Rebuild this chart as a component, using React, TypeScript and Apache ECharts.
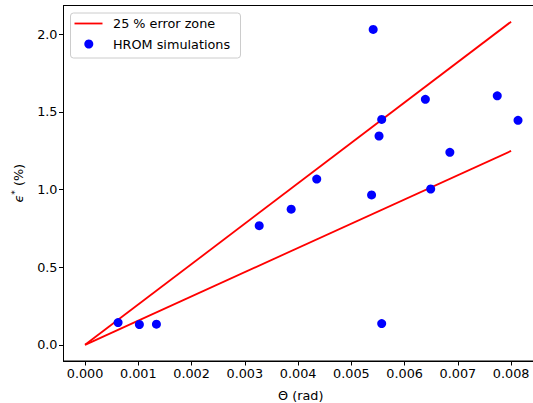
import React, { useEffect, useRef } from "react";
import * as echarts from "echarts";

// HROM simulation points: Θ (rad) and ε* (%)
const thetaValues = [0.00062, 0.00102, 0.00134, 0.00327, 0.00387, 0.00435, 0.00541, 0.00538, 0.00557, 0.00552, 0.00557, 0.00639, 0.00649, 0.00685, 0.00774, 0.00813];
const epsValues = [0.143, 0.131, 0.133, 0.767, 0.873, 1.067, 2.030, 0.965, 1.451, 1.344, 0.137, 1.580, 1.003, 1.239, 1.603, 1.445];

// 25 % error zone lines (endpoints)
const upperZoneX = [0, 0.008];
const upperZoneY = [0, 2.08];
const lowerZoneX = [0, 0.008];
const lowerZoneY = [0, 1.248];

const xTicks = [0, 0.001, 0.002, 0.003, 0.004, 0.005, 0.006, 0.007, 0.008];
const yTicks = [0, 0.5, 1.0, 1.5, 2.0];

const legendNames = ["25 % error zone", "HROM simulations"];

const FONT = "DejaVu Sans";
const FS = 12.8;

export default function App() {
  const ref = useRef<HTMLDivElement>(null);
  useEffect(() => {
    if (!ref.current) return;
    const chart = echarts.init(ref.current, undefined, { renderer: "svg" });
    const scatterData = thetaValues.map((x, i) => [x, epsValues[i]]);
    const upper = upperZoneX.map((x, i) => [x, upperZoneY[i]]);
    const lower = lowerZoneX.map((x, i) => [x, lowerZoneY[i]]);
    chart.setOption({
      animation: false,
      backgroundColor: "#ffffff",
      grid: {
        left: 63.5,
        top: 5.5,
        bottom: 42,
        right: -5,
        outerBoundsMode: "none",
        containLabel: false,
        show: true,
        borderColor: "#000",
        borderWidth: 1,
        backgroundColor: "transparent",
      },
      xAxis: {
        type: "value",
        min: -0.000405,
        max: 0.008505,
        splitLine: { show: false },
        axisLine: { show: true, onZero: false, lineStyle: { color: "#000", width: 1 } },
        axisTick: { show: true, customValues: xTicks, length: 4.5, lineStyle: { color: "#000" } },
        axisLabel: {
          customValues: xTicks,
          formatter: (v: number) => v.toFixed(3),
          color: "#000",
          fontFamily: FONT,
          fontSize: FS,
          margin: 6,
        },
        name: "Θ (rad)",
        nameLocation: "middle",
        nameGap: 28,
        nameTextStyle: { color: "#000", fontFamily: FONT, fontSize: FS },
      },
      yAxis: {
        type: "value",
        min: -0.104,
        max: 2.184,
        splitLine: { show: false },
        axisLine: { show: true, onZero: false, lineStyle: { color: "#000", width: 1 } },
        axisTick: { show: true, customValues: yTicks, length: 4.5, lineStyle: { color: "#000" } },
        axisLabel: {
          customValues: yTicks,
          formatter: (v: number) => v.toFixed(1),
          color: "#000",
          fontFamily: FONT,
          fontSize: FS,
          margin: 6,
        },
        name: "{e|ϵ}{s|*} (%)",
        nameLocation: "middle",
        nameRotate: 90,
        nameGap: 38,
        nameTextStyle: {
          color: "#000",
          fontFamily: FONT,
          fontSize: FS,
          rich: {
            e: { fontFamily: FONT, fontSize: FS, fontStyle: "italic", color: "#000" },
            s: { fontFamily: FONT, fontSize: 9, verticalAlign: "top", color: "#000", padding: [0, 0, 6, 0] },
          },
        },
      },
      series: [
        {
          name: legendNames[0],
          type: "line",
          data: upper,
          showSymbol: false,
          symbol: "none",
          lineStyle: { color: "#ff0000", width: 1.8 },
          z: 2,
        },
        {
          name: legendNames[0] + " ",
          type: "line",
          data: lower,
          showSymbol: false,
          symbol: "none",
          lineStyle: { color: "#ff0000", width: 1.8 },
          z: 2,
        },
        {
          name: legendNames[1],
          type: "scatter",
          data: scatterData,
          symbol: "circle",
          symbolSize: 9,
          itemStyle: { color: "#0000ff", opacity: 1 },
          z: 3,
        },
      ],
      graphic: [
        {
          type: "group",
          left: 70,
          top: 12.5,
          children: [
            {
              type: "rect",
              shape: { x: 0, y: 0, width: 170, height: 45, r: 3 },
              style: { fill: "rgba(255,255,255,0.8)", stroke: "#cccccc", lineWidth: 1 },
            },
            {
              type: "line",
              shape: { x1: 4, y1: 10.5, x2: 32, y2: 10.5 },
              style: { stroke: "#ff0000", lineWidth: 1.8 },
            },
            {
              type: "text",
              x: 42.5,
              y: 10.5,
              style: { text: legendNames[0], fill: "#000", font: `${FS}px ${FONT}`, verticalAlign: "middle" },
            },
            {
              type: "circle",
              shape: { cx: 18.3, cy: 31, r: 4.5 },
              style: { fill: "#0000ff" },
            },
            {
              type: "text",
              x: 42.5,
              y: 31,
              style: { text: legendNames[1], fill: "#000", font: `${FS}px ${FONT}`, verticalAlign: "middle" },
            },
          ],
        },
      ],
    });
    return () => chart.dispose();
  }, []);
  return (
    <div
      ref={ref}
      style={{ position: "fixed", left: 0, top: 0, width: 533, height: 403, background: "#fff" }}
    />
  );
}
